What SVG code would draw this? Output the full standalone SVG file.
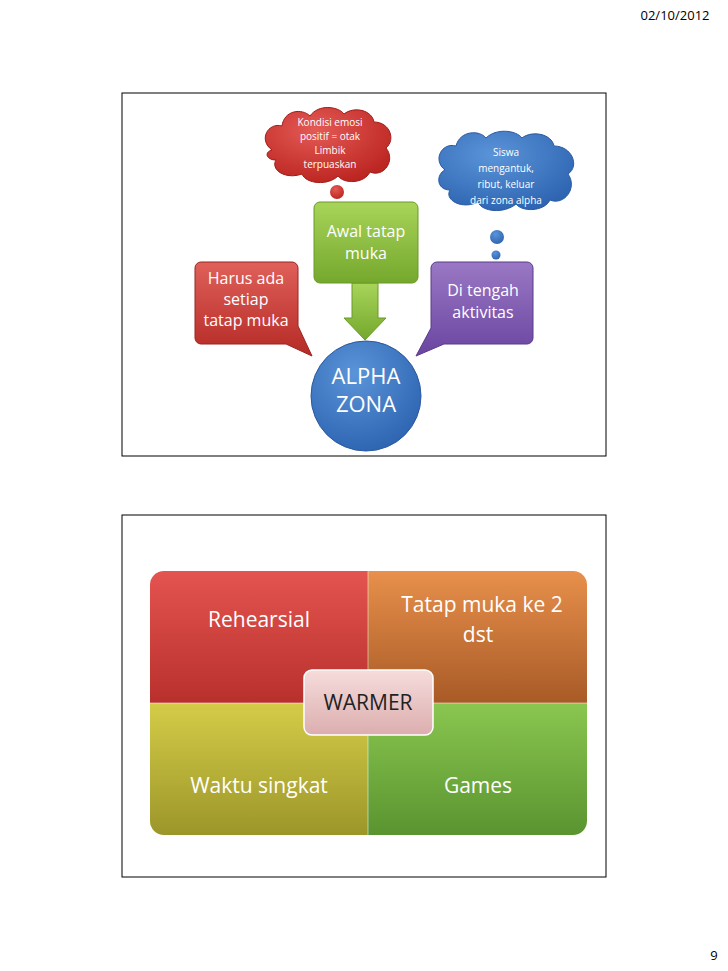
<svg xmlns="http://www.w3.org/2000/svg" width="728" height="971" viewBox="0 0 728 971">
<defs>
<linearGradient id="gR" x1="0" y1="0" x2="0" y2="1"><stop offset="0" stop-color="#e0605a"/><stop offset="1" stop-color="#b52a25"/></linearGradient>
<linearGradient id="gG" x1="0" y1="0" x2="0" y2="1"><stop offset="0" stop-color="#a8d45a"/><stop offset="1" stop-color="#74a82c"/></linearGradient>
<linearGradient id="gP" x1="0" y1="0" x2="0" y2="1"><stop offset="0" stop-color="#9a78c4"/><stop offset="1" stop-color="#6a45a0"/></linearGradient>
<radialGradient id="gB" cx="0.4" cy="0.3" r="0.8"><stop offset="0" stop-color="#5a94d8"/><stop offset="1" stop-color="#2a60ae"/></radialGradient>
<radialGradient id="gRc" cx="0.4" cy="0.3" r="0.8"><stop offset="0" stop-color="#e45a55"/><stop offset="1" stop-color="#b8201c"/></radialGradient>
<linearGradient id="q1" x1="0" y1="0" x2="0" y2="1"><stop offset="0" stop-color="#e45450"/><stop offset="1" stop-color="#b8302c"/></linearGradient>
<linearGradient id="q2" x1="0" y1="0" x2="0" y2="1"><stop offset="0" stop-color="#e8904c"/><stop offset="1" stop-color="#a85a26"/></linearGradient>
<linearGradient id="q3" x1="0" y1="0" x2="0" y2="1"><stop offset="0" stop-color="#d4cc48"/><stop offset="1" stop-color="#9c962a"/></linearGradient>
<linearGradient id="q4" x1="0" y1="0" x2="0" y2="1"><stop offset="0" stop-color="#8ac650"/><stop offset="1" stop-color="#5a9430"/></linearGradient>
<linearGradient id="gW" x1="0" y1="0" x2="0" y2="1"><stop offset="0" stop-color="#f6dcdc"/><stop offset="1" stop-color="#dcaeae"/></linearGradient>
<clipPath id="mc"><rect x="150" y="571" width="437" height="264" rx="14"/></clipPath>
</defs>
<style>
text{font-family:"Open Sans","Liberation Sans",sans-serif;text-anchor:middle}
.w{fill:#fff}
.frame{fill:#fff;stroke:#000;stroke-width:1}
</style>
<rect width="728" height="971" fill="#fff"/>
<text x="675" y="20" font-size="13" fill="#000">02/10/2012</text>
<text x="714" y="960" font-size="13" fill="#000">9</text>
<rect class="frame" x="122" y="93" width="484" height="363"/>
<rect class="frame" x="122" y="515" width="484" height="362"/>

<g id="connectors">
<path d="M352,283 L378,283 L378,318 L386,318 L365,340 L344,318 L352,318 Z" fill="url(#gG)" stroke="#6a9a28" stroke-width="1"/>
</g>

<g id="cloud-red">
<path d="M272,150 C258,140 268,122 282,126 C284,110 302,108 310,116 C318,104 338,106 344,114 C354,106 372,110 374,122 C390,122 396,140 386,148 C396,160 384,178 370,172 C364,184 344,184 338,176 C328,186 306,184 302,174 C286,180 270,170 276,160 C266,160 264,152 272,150 Z" fill="url(#gRc)" stroke="#a01c18"/>
<circle cx="337" cy="192" r="7" fill="url(#gRc)"/><circle cx="338" cy="207" r="4" fill="url(#gRc)"/><circle cx="339" cy="214" r="2" fill="#b8201c"/>
<text class="w" font-size="10"><tspan x="330" y="126">Kondisi emosi</tspan><tspan x="330" y="140">positif = otak</tspan><tspan x="330" y="154">Limbik</tspan><tspan x="330" y="168">terpuaskan</tspan></text>
</g>
<g id="cloud-blue">
<path d="M445,170 C432,160 442,142 456,146 C460,130 480,130 486,138 C496,128 516,130 522,138 C532,130 552,134 554,146 C572,146 580,166 568,174 C578,188 564,206 550,200 C544,212 522,212 516,204 C504,214 482,212 478,202 C462,210 444,200 450,190 C436,190 436,174 445,170 Z" fill="url(#gB)" stroke="#2a5aa0"/>
<circle cx="497" cy="237" r="7" fill="url(#gB)"/><circle cx="496" cy="255" r="4.5" fill="url(#gB)"/><circle cx="495" cy="269" r="2" fill="#2a60ae"/>
<text class="w" font-size="10"><tspan x="506" y="156">Siswa</tspan><tspan x="506" y="172">mengantuk,</tspan><tspan x="506" y="188">ribut, keluar</tspan><tspan x="506" y="204">dari zona alpha</tspan></text>
</g>

<g id="node-harus">
<path d="M201,262 H292 A6,6 0 0 1 298,268 V326 L312,356 L286,344 H201 A6,6 0 0 1 195,338 V268 A6,6 0 0 1 201,262 Z" fill="url(#gR)" stroke="#9a2420"/>
<text class="w" font-size="16"><tspan x="246" y="284">Harus ada</tspan><tspan x="246" y="305">setiap</tspan><tspan x="246" y="326">tatap muka</tspan></text>
</g>
<g id="node-awal">
<rect x="314" y="202" width="104" height="81" rx="6" fill="url(#gG)" stroke="#6a9a28"/>
<text class="w" font-size="16"><tspan x="366" y="237">Awal tatap</tspan><tspan x="366" y="259">muka</tspan></text>
</g>
<g id="node-tengah">
<path d="M437,262 H527 A6,6 0 0 1 533,268 V338 A6,6 0 0 1 527,344 H444 L416,356 L431,328 V268 A6,6 0 0 1 437,262 Z" fill="url(#gP)" stroke="#5a3a8a"/>
<text class="w" font-size="16"><tspan x="483" y="296">Di tengah</tspan><tspan x="483" y="318">aktivitas</tspan></text>
</g>
<g id="node-alpha">
<circle cx="366" cy="396" r="55" fill="url(#gB)" stroke="#2a5aa0"/>
<text class="w" font-size="22"><tspan x="366" y="384">ALPHA</tspan><tspan x="366" y="412">ZONA</tspan></text>
</g>

<g id="matrix" clip-path="url(#mc)">
<rect x="150" y="571" width="218" height="132" fill="url(#q1)"/>
<rect x="368" y="571" width="219" height="132" fill="url(#q2)"/>
<rect x="150" y="703" width="218" height="132" fill="url(#q3)"/>
<rect x="368" y="703" width="219" height="132" fill="url(#q4)"/>
<line x1="368" y1="571" x2="368" y2="835" stroke="#fff" stroke-opacity="0.5"/>
<line x1="150" y1="703" x2="587" y2="703" stroke="#fff" stroke-opacity="0.5"/>
</g>
<g id="q-rehearsial"><text class="w" font-size="21" x="259" y="627">Rehearsial</text></g>
<g id="q-tatap"><text class="w" font-size="21"><tspan x="482" y="612">Tatap muka ke 2</tspan><tspan x="478" y="642">dst</tspan></text></g>
<g id="q-waktu"><text class="w" font-size="21" x="259" y="793">Waktu singkat</text></g>
<g id="q-games"><text class="w" font-size="21" x="478" y="793">Games</text></g>
<g id="node-warmer">
<rect x="304" y="670" width="129" height="65" rx="8" fill="url(#gW)" stroke="#fff" stroke-width="1.5"/>
<text font-size="21" x="368" y="710" fill="#222">WARMER</text>
</g>
</svg>
